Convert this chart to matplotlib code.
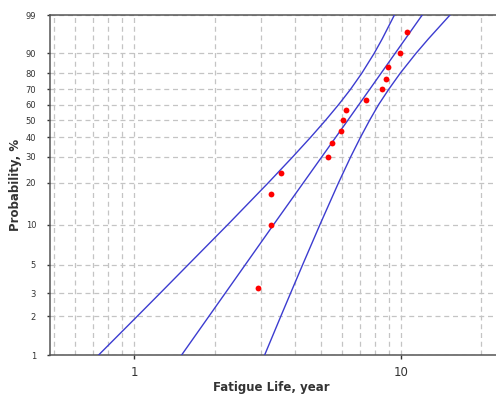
import numpy as np
import matplotlib
matplotlib.use('Agg')
import matplotlib.pyplot as plt

# Observed fatigue lives (year) and their plotting positions (%)
life = [2.92, 3.25, 3.27, 3.54, 5.32, 5.53, 5.96, 6.04, 6.22, 7.39, 8.47, 8.81, 8.96, 9.89, 10.56]
prob = [3.3, 10.0, 16.7, 23.3, 30.0, 36.7, 43.3, 50.0, 56.7, 63.3, 70.0, 76.7, 83.3, 90.0, 96.7]

# Fitted Weibull line
fit_prob = [1, 10, 50, 99]
fit_life = [1.505, 3.33, 6.33, 12.02]

# Confidence bounds on life
bound_prob = [1, 2, 3, 5, 10, 20, 30, 40, 50, 60, 70, 80, 90, 95, 99]
lower_life = [0.735, 1.026, 1.247, 1.595, 2.242, 3.176, 3.926, 4.595, 5.224,
              5.84, 6.466, 7.129, 7.934, 8.51, 9.454]
upper_life = [3.083, 3.545, 3.852, 4.283, 4.97, 5.83, 6.478, 7.062, 7.638,
              8.25, 8.994, 9.932, 11.38, 12.68, 15.28]

yticks = [1, 2, 3, 5, 10, 20, 30, 40, 50, 60, 70, 80, 90, 99]
xminor = [0.5, 0.6, 0.7, 0.8, 0.9, 2, 3, 4, 5, 6, 7, 8, 9, 20]


def weibull_fwd(p):
    p = np.clip(np.asarray(p, dtype=float), 1e-9, 100 - 1e-9)
    return np.log(-np.log(1 - p / 100.0))


def weibull_inv(w):
    return 100.0 * (1 - np.exp(-np.exp(np.asarray(w, dtype=float))))


fig = plt.figure(figsize=(4.96, 3.96), dpi=100)
ax = fig.add_axes([0.1008, 0.1035, 0.9214, 0.8586])

ax.set_xscale('log')
ax.set_yscale('function', functions=(weibull_fwd, weibull_inv))

line_col = '#3c3cd0'
ax.plot(lower_life, bound_prob, color=line_col, lw=1.0, zorder=3)
ax.plot(fit_life, fit_prob, color=line_col, lw=1.0, zorder=3)
ax.plot(upper_life, bound_prob, color=line_col, lw=1.0, zorder=3)
ax.plot(life, prob, 'o', color='#ff0000', ms=4.2, mec='none', zorder=4)

ax.set_xlim(0.483, 25)
ax.set_ylim(1, 99)

ax.set_xticks([1, 10], ['1', '10'])
ax.set_xticks(xminor, minor=True)
ax.xaxis.set_minor_formatter(plt.NullFormatter())
ax.set_yticks(yticks, [str(v) for v in yticks])
ax.yaxis.set_minor_locator(plt.NullLocator())

ax.grid(True, which='both', color='#c4c4c4', linestyle=(0, (4, 3)), linewidth=0.9)
ax.set_axisbelow(True)

ax.tick_params(axis='x', which='major', length=3, width=1, pad=5, labelsize=8.5, colors='#333333')
ax.tick_params(axis='x', which='minor', length=0)
ax.tick_params(axis='y', length=2.5, width=1, pad=7.5, labelsize=6, colors='#333333')

for side in ['left', 'bottom', 'top']:
    ax.spines[side].set_color('#555555')
    ax.spines[side].set_linewidth(1.1)
ax.spines['right'].set_visible(False)

ax.set_xlabel('Fatigue Life, year', fontsize=8.5, fontweight='bold', color='#333333')
ax.set_ylabel('Probability, %', fontsize=8.5, fontweight='bold', color='#333333')
ax.xaxis.set_label_coords(0.4847, -0.076)
ax.yaxis.set_label_coords(-0.062, 0.5)

fig.savefig('out.png', dpi=100)
plt.close(fig)
